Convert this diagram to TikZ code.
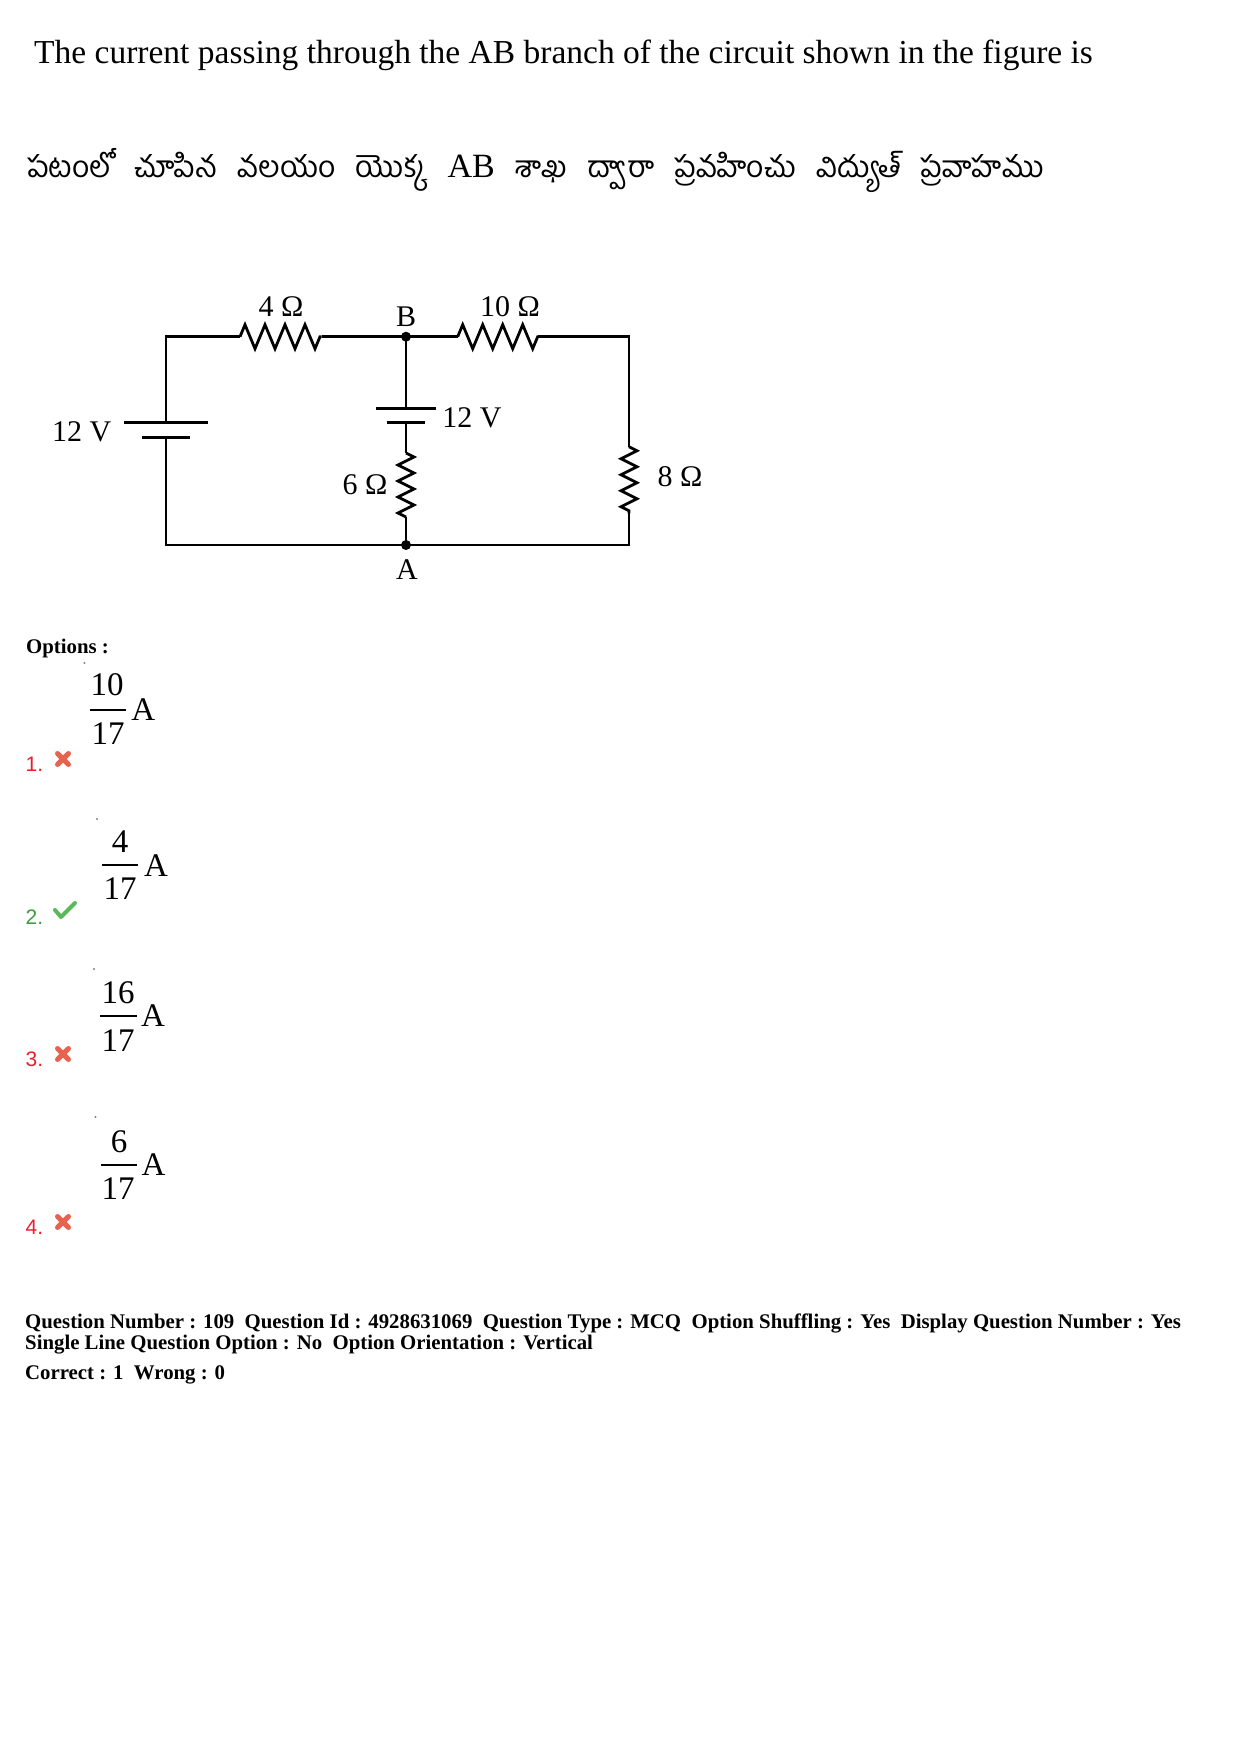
\documentclass[tikz,border=0pt]{standalone}
\usepackage{fontspec}
\setmainfont{Liberation Serif}
\newfontfamily\telugufont[Script=Telugu, WordSpace=2.8]{Hind Guntur}
\newfontfamily\optfont{Liberation Sans}
\usetikzlibrary{decorations.pathmorphing}

\definecolor{optred}{HTML}{E8202A}
\definecolor{optgreen}{HTML}{3A9D3A}
\definecolor{markred}{HTML}{E8634F}
\definecolor{markgreen}{HTML}{5DB85C}

\tikzset{
  wire/.style={line width=2.8pt, line join=miter},
  hres/.style={decorate, decoration={zigzag, segment length=20pt, amplitude=12pt}},
  vres/.style={decorate, decoration={zigzag, segment length=16pt, amplitude=8pt}},
  lbl/.style={inner sep=0pt, font=\fontsize{30}{34}\selectfont},
  frc/.style={inner sep=0pt, font=\fontsize{33}{38}\selectfont},
  optnum/.style={inner sep=0pt, font=\optfont\fontsize{21}{24}\selectfont},
  meta/.style={inner sep=0pt, anchor=base west, font=\bfseries\fontsize{20.8}{25}\selectfont},
  xmark/.style={markred, line width=5pt, line cap=round},
  tick/.style={markgreen, line width=4pt, line cap=round, line join=round},
}

\begin{document}
\begin{tikzpicture}[x=1pt,y=-1pt]
\useasboundingbox (0,0) rectangle (1240,1755);

% question
\node[inner sep=0pt, anchor=base west, font=\fontsize{33.5}{40}\selectfont] (qen) at (34,64)
  {The current passing through the AB branch of the circuit shown in the figure is};
\node[inner sep=0pt, anchor=base west, font=\fontsize{30}{36}\selectfont] (qte) at (27,178)
  {\telugufont పటంలో చూపిన వలయం యొక్క {\rmfamily\fontsize{34}{38}\selectfont AB} శాఖ ద్వారా ప్రవహించు విద్యుత్ ప్రవాహము};

% circuit
\coordinate (tl) at (166,336.7);
\coordinate (b) at (406,336.7);
\coordinate (tr) at (629,336.7);
\coordinate (bl) at (166,545);
\coordinate (a) at (406,545);
\coordinate (br) at (629,545);
\coordinate (r4a) at (240,336.7);
\coordinate (r4b) at (321.7,336.7);
\coordinate (r10a) at (457.7,336.7);
\coordinate (r10b) at (538,336.7);
\coordinate (r8a) at (629,446.7);
\coordinate (r8b) at (629,513.3);
\coordinate (r6a) at (406,453);
\coordinate (r6b) at (406,517);
\coordinate (lbp) at (166,422.7);
\coordinate (lbn) at (166,437.3);
\coordinate (mbp) at (406,408.3);
\coordinate (mbn) at (406,422.7);

\draw[wire] (lbp) -- (tl) -- (r4a);
\draw[wire,hres] (r4a) -- (r4b);
\draw[wire] (r4b) -- (b) -- (r10a);
\draw[wire,hres] (r10a) -- (r10b);
\draw[wire] (r10b) -- (tr) -- (r8a);
\draw[wire,vres] (r8a) -- (r8b);
\draw[wire] (r8b) -- (br) -- (bl) -- (lbn);
\draw[wire] (b) -- (mbp);
\draw[wire] (mbn) -- (r6a);
\draw[wire,vres] (r6a) -- (r6b);
\draw[wire] (r6b) -- (a);

% cells
\draw[wire] ([xshift=-42pt]lbp) -- ([xshift=42pt]lbp);
\draw[wire] ([xshift=-24pt]lbn) -- ([xshift=24pt]lbn);
\draw[wire] ([xshift=-30pt]mbp) -- ([xshift=30pt]mbp);
\draw[wire] ([xshift=-19pt]mbn) -- ([xshift=19pt]mbn);

\fill (b) circle (5);
\fill (a) circle (5);

\node[lbl] (l4) at (281,307) {4 Ω};
\node[lbl] (lb) at (406,317) {B};
\node[lbl] (l10) at (510,307) {10 Ω};
\node[lbl] (lvm) at (472,418) {12 V};
\node[lbl] (lvl) at (81.7,431.7) {12 V};
\node[lbl] (l6) at (365,485) {6 Ω};
\node[lbl] (l8) at (680,477) {8 Ω};
\node[lbl] (la) at (407,570) {A};

% options
\node[meta] (opts) at (26,653) {Options :};

\fill[gray] (84.5,663) circle (1.2);
\node[frc] (num1) at (107,685) {10};
\node[frc] (den1) at (108,734) {17};
\draw[line width=2pt] (90,710) -- (126,710);
\node[frc] (amp1) at (143.3,710) {A};
\node[optnum, text=optred] (o1) at (34.5,764) {1.};
\draw[xmark] (57.5,753.5) -- (68.5,764.5) (57.5,764.5) -- (68.5,753.5);

\fill[gray] (97,819) circle (1.2);
\node[frc] (num2) at (120,842) {4};
\node[frc] (den2) at (120,889) {17};
\draw[line width=2pt] (102,865) -- (138,865);
\node[frc] (amp2) at (156,866) {A};
\node[optnum, text=optgreen] (o2) at (34.5,917) {2.};
\draw[tick] (55,910) -- (61,917) -- (75,903);

\fill[gray] (94,969) circle (1.2);
\node[frc] (num3) at (118,993) {16};
\node[frc] (den3) at (118,1041) {17};
\draw[line width=2pt] (100,1016) -- (136.5,1016);
\node[frc] (amp3) at (153,1016) {A};
\node[optnum, text=optred] (o3) at (34.5,1059) {3.};
\draw[xmark] (57.5,1048.5) -- (68.5,1059.5) (57.5,1059.5) -- (68.5,1048.5);

\fill[gray] (95.5,1117) circle (1.2);
\node[frc] (num4) at (119,1142) {6};
\node[frc] (den4) at (118,1189) {17};
\draw[line width=2pt] (101,1165) -- (137,1165);
\node[frc] (amp4) at (153.5,1165) {A};
\node[optnum, text=optred] (o4) at (34.5,1227) {4.};
\draw[xmark] (57.5,1216.5) -- (68.5,1227.5) (57.5,1227.5) -- (68.5,1216.5);

% question data
\node[meta] (m1) at (25,1328) {Question Number : 109~~Question Id : 4928631069~~Question Type : MCQ~~Option Shuffling : Yes~~Display Question Number : Yes};
\node[meta] (m2) at (25,1349) {Single Line Question Option : No~~Option Orientation : Vertical};
\node[meta] (m3) at (25,1379) {Correct : 1~~Wrong : 0};
\end{tikzpicture}
\end{document}
